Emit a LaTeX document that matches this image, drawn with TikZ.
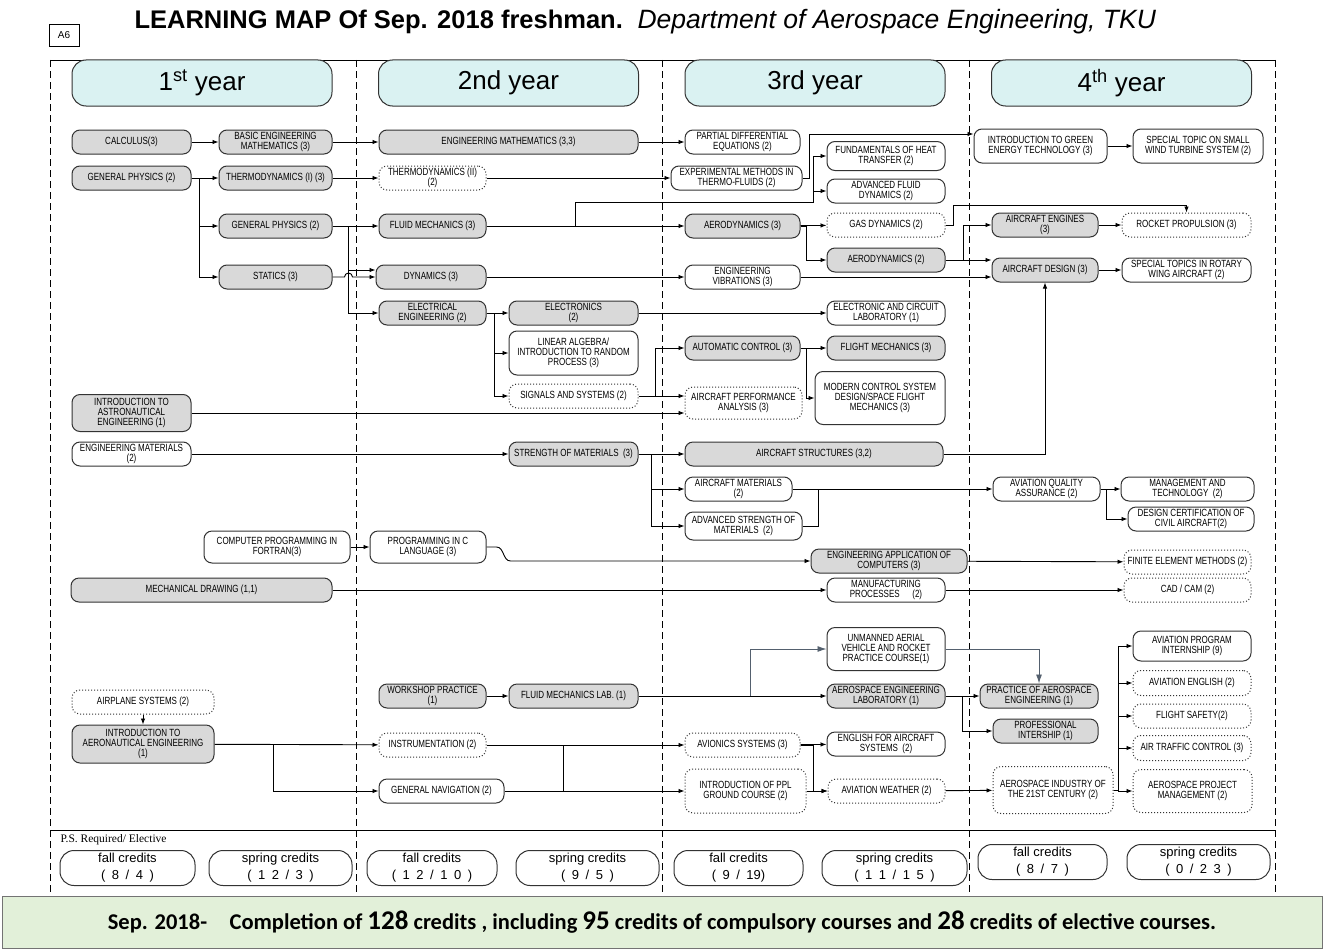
\documentclass[tikz,border=0pt]{standalone}
\usepackage{fontspec}
\setmainfont{Liberation Sans}
\newfontfamily\boxfont{Liberation Sans}[FakeStretch=0.77]
\newfontfamily\psfont{Liberation Serif}
\newfontfamily\notefont{Carlito}
\usetikzlibrary{arrows.meta}
\definecolor{reqgray}{RGB}{217,217,217}
\definecolor{yearcyan}{RGB}{218,242,242}
\definecolor{notegreen}{RGB}{226,240,217}
\definecolor{uavgray}{RGB}{84,96,110}

\begin{document}
\begin{tikzpicture}[x=1pt,y=-1pt,
    course/.style={draw=black!80, line width=1pt, rounded corners=8pt, minimum height=24pt,
      inner sep=1pt, align=center, font=\boxfont\fontsize{10.4}{10}\selectfont},
    reqbox/.style={course, fill=reqgray},
    optbox/.style={course, fill=white},
    elebox/.style={course, fill=white, dotted},
    wd/.style={minimum width=#1pt},
    ht/.style={minimum height=#1pt},
    arr/.style={line width=0.9pt, -{Latex[length=6pt,width=4.5pt]}},
    garr/.style={line width=0.9pt, draw=uavgray, -{Latex[length=9pt,width=6pt]}},
    link/.style={line width=0.9pt},
    colline/.style={line width=0.9pt, dash pattern=on 7pt off 4pt},
    yearbox/.style={draw=black!80, line width=1pt, fill=yearcyan, rounded corners=14pt,
      minimum width=260pt, minimum height=46pt, font=\fontsize{26}{30}\selectfont},
    credbox/.style={draw=black!80, line width=1pt, rounded corners=14pt, minimum height=35pt,
      align=center, inner sep=1pt, font=\fontsize{13}{17}\selectfont}
  ]
  \useasboundingbox (0,0) rectangle (1324,950);

  % heading
  \node[draw, line width=0.8pt, minimum width=30pt, minimum height=22pt, font=\fontsize{10}{12}\selectfont] (tag) at (64,35) {A6};
  \node[anchor=west, font=\bfseries\fontsize{25.5}{28}\selectfont] (title) at (131,22) {LEARNING MAP Of Sep. 2018 freshman.};
  \node[anchor=west, font=\itshape\fontsize{26.5}{28}\selectfont] (dept) at (634,22) {Department of Aerospace Engineering, TKU};

  % frame
  \draw[line width=0.9pt] (50,60) -- (1275,60);
  \draw[line width=0.9pt] (50,830) -- (1275,830);
  \foreach \x in {50,356,662,969,1275}
    \draw[colline] (\x,60) -- (\x,893);

  \foreach \x/\yr [count=\i] in {202/{1\textsuperscript{st} year}, 508.5/{2nd year}, 815/{3rd year}, 1121.5/{4\textsuperscript{th} year}}
    \node[yearbox] (year\i) at (\x,83) {\yr};

  % 1st year
  \node[reqbox, wd=119] (calc) at (131.5,142) {CALCULUS(3)};
  \node[reqbox, wd=113] (bem) at (275.5,142) {BASIC ENGINEERING\\MATHEMATICS (3)};
  \node[reqbox, wd=119] (gp) at (131.5,178) {GENERAL PHYSICS (2)};
  \node[reqbox, wd=113] (thA) at (275.5,178) {THERMODYNAMICS (I) (3)};
  \node[reqbox, wd=113] (gpB) at (275.5,226) {GENERAL PHYSICS (2)};
  \node[reqbox, wd=113] (stat) at (275.5,277) {STATICS (3)};
  \node[reqbox, wd=119, ht=37] (astro) at (131.5,413) {INTRODUCTION TO\\ASTRONAUTICAL\\ENGINEERING (1)};
  \node[optbox, wd=119] (engmat) at (131.5,454) {ENGINEERING MATERIALS\\(2)};
  \node[optbox, wd=146, ht=32] (fort) at (277,547) {COMPUTER PROGRAMMING IN\\FORTRAN(3)};
  \node[reqbox, wd=261] (mdraw) at (201.5,590) {MECHANICAL DRAWING (1,1)};
  \node[elebox, wd=142] (airsys) at (143,702) {AIRPLANE SYSTEMS (2)};
  \node[reqbox, wd=142, ht=38] (aero) at (143,744) {INTRODUCTION TO\\AERONAUTICAL ENGINEERING\\(1)};

  % 2nd year
  \node[reqbox, wd=259] (emath) at (508.5,142) {ENGINEERING MATHEMATICS (3,3)};
  \node[elebox, wd=107] (thB) at (432.5,178) {THERMODYNAMICS (II)\\(2)};
  \node[reqbox, wd=107] (fm) at (432.5,226) {FLUID MECHANICS (3)};
  \node[reqbox, wd=110] (dyn) at (431,277) {DYNAMICS (3)};
  \node[reqbox, wd=107] (ee) at (432.5,313) {ELECTRICAL\\ENGINEERING (2)};
  \node[reqbox, wd=129] (elec) at (573.5,313) {ELECTRONICS\\(2)};
  \node[optbox, wd=129, ht=44] (linalg) at (573.5,353) {LINEAR ALGEBRA/\\INTRODUCTION TO RANDOM\\PROCESS (3)};
  \node[elebox, wd=129] (sig) at (573.5,396) {SIGNALS AND SYSTEMS (2)};
  \node[reqbox, wd=129] (strm) at (573.5,454) {STRENGTH OF MATERIALS \ (3)};
  \node[optbox, wd=116, ht=32] (progc) at (428,547) {PROGRAMMING IN C\\LANGUAGE (3)};
  \node[reqbox, wd=107] (wshop) at (432.5,696) {WORKSHOP PRACTICE\\(1)};
  \node[reqbox, wd=129] (fmlab) at (573.5,696) {FLUID MECHANICS LAB. (1)};
  \node[elebox, wd=107] (instr) at (432.5,745) {INSTRUMENTATION (2)};
  \node[optbox, wd=125] (gnav) at (441.5,791) {GENERAL NAVIGATION (2)};

  % 3rd year
  \node[optbox, wd=115] (pde) at (742.5,142) {PARTIAL DIFFERENTIAL\\EQUATIONS (2)};
  \node[optbox, wd=131] (expm) at (736.5,178) {EXPERIMENTAL METHODS IN\\THERMO-FLUIDS (2)};
  \node[optbox, wd=118, ht=29] (heat) at (886,156) {FUNDAMENTALS OF HEAT\\TRANSFER (2)};
  \node[optbox, wd=118] (afd) at (886,191) {ADVANCED FLUID\\DYNAMICS (2)};
  \node[reqbox, wd=115] (aeroA) at (742.5,226) {AERODYNAMICS (3)};
  \node[elebox, wd=118] (gasd) at (886,225) {GAS DYNAMICS (2)};
  \node[reqbox, wd=118] (aeroB) at (886,260) {AERODYNAMICS (2)};
  \node[optbox, wd=115] (vib) at (742.5,277) {ENGINEERING\\VIBRATIONS (3)};
  \node[optbox, wd=118] (eclab) at (886,313) {ELECTRONIC AND CIRCUIT\\LABORATORY (1)};
  \node[reqbox, wd=115] (actl) at (742.5,348) {AUTOMATIC CONTROL (3)};
  \node[reqbox, wd=118] (fmech) at (886,348) {FLIGHT MECHANICS (3)};
  \node[elebox, wd=117, ht=32] (perf) at (743.5,403) {AIRCRAFT PERFORMANCE\\ANALYSIS (3)};
  \node[optbox, wd=130, ht=53] (mcs) at (880,398) {MODERN CONTROL SYSTEM\\DESIGN/SPACE FLIGHT\\MECHANICS (3)};
  \node[reqbox, wd=258] (astruc) at (814,454) {AIRCRAFT STRUCTURES (3,2)};
  \node[optbox, wd=107] (amat) at (738.5,489) {AIRCRAFT MATERIALS\\(2)};
  \node[optbox, wd=117, ht=28] (asm) at (743.5,526) {ADVANCED STRENGTH OF\\MATERIALS \ (2)};
  \node[reqbox, wd=156] (eac) at (889,561) {ENGINEERING APPLICATION OF\\COMPUTERS (3)};
  \node[optbox, wd=118] (manu) at (886,590) {MANUFACTURING\\PROCESSES \quad(2)};
  \node[optbox, wd=118, ht=43] (uav) at (886,649) {UNMANNED AERIAL\\VEHICLE AND ROCKET\\PRACTICE COURSE(1)};
  \node[reqbox, wd=118] (aelab) at (886,696) {AEROSPACE ENGINEERING\\LABORATORY (1)};
  \node[elebox, wd=115] (avion) at (742.5,745) {AVIONICS SYSTEMS (3)};
  \node[optbox, wd=118] (engac) at (886,744) {ENGLISH FOR AIRCRAFT\\SYSTEMS \ (2)};
  \node[elebox, wd=121, ht=44] (ppl) at (745.5,791) {INTRODUCTION OF PPL\\GROUND COURSE (2)};
  \node[elebox, wd=117] (weath) at (886.5,791) {AVIATION WEATHER (2)};

  % 4th year
  \node[optbox, wd=133, ht=34] (green) at (1040.5,146) {INTRODUCTION TO GREEN\\ENERGY TECHNOLOGY (3)};
  \node[optbox, wd=130, ht=34] (wind) at (1198,146) {SPECIAL TOPIC ON SMALL\\WIND TURBINE SYSTEM (2)};
  \node[reqbox, wd=106] (aeng) at (1045,225) {AIRCRAFT ENGINES\\(3)};
  \node[elebox, wd=129] (rocket) at (1186.5,225) {ROCKET PROPULSION (3)};
  \node[reqbox, wd=106] (adesign) at (1045,270) {AIRCRAFT DESIGN (3)};
  \node[optbox, wd=129] (rotary) at (1186.5,270) {SPECIAL TOPICS IN ROTARY\\WING AIRCRAFT (2)};
  \node[optbox, wd=107] (aqa) at (1046.5,489) {AVIATION QUALITY\\ASSURANCE (2)};
  \node[optbox, wd=133] (mgmt) at (1187.5,489) {MANAGEMENT AND\\TECHNOLOGY \ (2)};
  \node[optbox, wd=126] (cert) at (1191,519) {DESIGN CERTIFICATION OF\\CIVIL AIRCRAFT(2)};
  \node[elebox, wd=127] (fem) at (1187.5,562) {FINITE ELEMENT METHODS (2)};
  \node[elebox, wd=127] (cad) at (1187.5,590) {CAD / CAM (2)};
  \node[reqbox, wd=118] (pae) at (1039,696) {PRACTICE OF AEROSPACE\\ENGINEERING (1)};
  \node[reqbox, wd=105] (intern) at (1045.5,731) {PROFESSIONAL\\INTERSHIP (1)};
  \node[optbox, wd=118, ht=30] (apint) at (1192,646) {AVIATION PROGRAM\\INTERNSHIP (9)};
  \node[elebox, wd=118, ht=25] (aveng) at (1192,683) {AVIATION ENGLISH (2)};
  \node[elebox, wd=118] (fsafe) at (1192,716) {FLIGHT SAFETY(2)};
  \node[elebox, wd=118, ht=25] (atc) at (1192,748) {AIR TRAFFIC CONTROL (3)};
  \node[elebox, wd=120, ht=47] (ind21) at (1053,790) {AEROSPACE INDUSTRY OF\\THE 21ST CENTURY (2)};
  \node[elebox, wd=119, ht=43] (apm) at (1192.5,791) {AEROSPACE PROJECT\\MANAGEMENT (2)};

  % junctions
  \coordinate (jgp) at (348,226);
  \coordinate (jfm) at (575,226);
  \coordinate (jht) at (813,202);
  \coordinate (jgr) at (809,134);
  \coordinate (juav) at (750,696);
  \coordinate (jnav) at (563,745);

  % links
  \draw[arr] (calc) -- (bem);
  \draw[arr] (bem) -- (emath);
  \draw[arr] (emath) -- (pde);
  \draw[arr] (gp) -- (thA);
  \draw[arr] (gp.east) -- ++(8,0) |- (gpB);
  \draw[arr] (gp.east) -- ++(8,0) |- (stat);
  \draw[arr] (thA) -- (thB);
  \draw[arr] (thB) -- (expm);
  \draw[arr] (expm.east) -| (jgr) -- (jgr -| green.west);
  \draw[arr] (gpB) -- (fm);
  \draw[arr] (fm) -- (aeroA);
  \draw[arr] (jfm) |- (jht) |- (heat);
  \draw[arr] (jht |- afd) -- (afd);
  \draw[arr] (gpB) -- (jgp) |- (ee);
  \draw[arr] (jgp |- 0,270) -- (dyn.west |- 0,270);
  \draw[arr] (stat.east) -- ++(12,0) arc[start angle=180, end angle=0, radius=4pt] -- (dyn.west |- stat);
  \draw[arr] (dyn) -- (vib);
  \draw[arr] (vib) -- (adesign.west |- vib);
  \draw[arr] (ee) -- (elec);
  \draw[arr] (ee.east) -- ++(8,0) |- (linalg);
  \draw[arr] (ee.east) -- ++(8,0) |- (sig);
  \draw[arr] (elec) -- (eclab);
  \draw[arr] (sig.east) -- ++(17,0) |- (actl);
  \draw[arr] (sig) -- (perf.west |- sig);
  \draw[arr] (astro) -- (perf.west |- astro);
  \draw[arr] (actl) -- (fmech);
  \draw[arr] (actl.east) -- ++(6,0) |- (mcs);
  \draw[arr] (aeroA) -- (gasd);
  \draw[arr] (aeroA.east) -- ++(6,0) |- (aeroB);
  \draw[arr] (gasd.east) -- ++(8,0) -- ++(0,-20) -| (rocket.north);
  \draw[arr] (aeroB.east) -- ++(18,0) |- (aeng);
  \draw[arr] (aeroB) -- (adesign.west |- aeroB);
  \draw[arr] (aeng) -- (rocket);
  \draw[arr] (adesign) -- (rotary);
  \draw[arr] (green) -- (wind);
  \draw[arr] (engmat) -- (strm);
  \draw[arr] (strm) -- (astruc);
  \draw[arr] (strm.east) -- ++(13,0) |- (amat);
  \draw[arr] (strm.east) -- ++(13,0) |- (asm);
  \draw[arr] (astruc) -| (adesign);
  \draw[arr] (amat) -- (aqa);
  \draw[link] (asm.east) -- ++(16,0) -- ++(0,-37);
  \draw[arr] (aqa) -- (mgmt);
  \draw[arr] (aqa.east) -- ++(6,0) |- (cert);
  \draw[arr] (fort) -- (progc);
  \draw[arr] (progc.east) -- ++(10,0) to[out=0, in=180] ++(14,14) -- (eac);
  \draw[arr] (eac) -- (fem);
  \draw[arr] (mdraw) -- (manu);
  \draw[arr] (manu) -- (cad);
  \draw[arr] (wshop) -- (fmlab);
  \draw[arr] (fmlab) -- (aelab);
  \draw[garr] (juav) |- (uav);
  \draw[garr] (uav.east) -| (pae.north);
  \draw[arr] (aelab) -- (pae);
  \draw[arr] (aelab.east) -- ++(17,0) |- (intern);
  \draw[arr] (airsys) -- (aero);
  \draw[arr] (aero) -- (instr);
  \draw[arr] (aero.east) -- ++(59,0) |- (gnav);
  \draw[arr] (instr) -- (avion);
  \draw[arr] (gnav) -- (ppl);
  \draw[link] (jnav) -- (jnav |- gnav);
  \draw[arr] (avion) -- (engac);
  \draw[arr] (avion.east) -- ++(13,0) |- (weath);
  \draw[arr] (ppl) -- (weath);
  \draw[arr] (weath) -- (ind21);
  \foreach \t in {apint,aveng,fsafe,atc,apm}
    \draw[arr] (ind21.east) -- ++(5,0) |- (\t);

  % credits
  \node[anchor=west, font=\psfont\fontsize{11.5}{12}\selectfont] (ps) at (57,840) {P.S. Required/ Elective};
  \foreach \x/\w/\y/\c [count=\i] in {127.5/135/868/{fall credits\\(\enspace 8\enspace/\enspace 4\enspace)},
      280.5/143/868/{spring credits\\(\enspace 1\enspace 2\enspace/\enspace 3\enspace)},
      432/130/868/{fall credits\\(\enspace 1\enspace 2\enspace/\enspace 1\enspace 0\enspace)},
      587.5/143/868/{spring credits\\(\enspace 9\enspace/\enspace 5\enspace)},
      738.5/129/868/{fall credits\\(\enspace 9\enspace/\enspace 19)},
      894.5/145/868/{spring credits\\(\enspace 1\enspace 1\enspace/\enspace 1\enspace 5\enspace)},
      1042.5/129/862/{fall credits\\(\enspace 8\enspace/\enspace 7\enspace)},
      1198.5/143/862/{spring credits\\(\enspace 0\enspace/\enspace 2\enspace 3\enspace)}}
    \node[credbox, minimum width=\w pt] (cred\i) at (\x,\y) {\c};

  % summary
  \node[draw=black!55, line width=1pt, fill=notegreen, minimum width=1320pt, minimum height=52pt,
    font=\notefont\bfseries\fontsize{22.5}{24}\selectfont] (note) at (662,922)
    {Sep. 2018-\quad Completion of {\fontsize{27}{24}\selectfont 128} credits , including {\fontsize{27}{24}\selectfont 95} credits of compulsory courses and {\fontsize{27}{24}\selectfont 28} credits of elective courses.};
\end{tikzpicture}
\end{document}
